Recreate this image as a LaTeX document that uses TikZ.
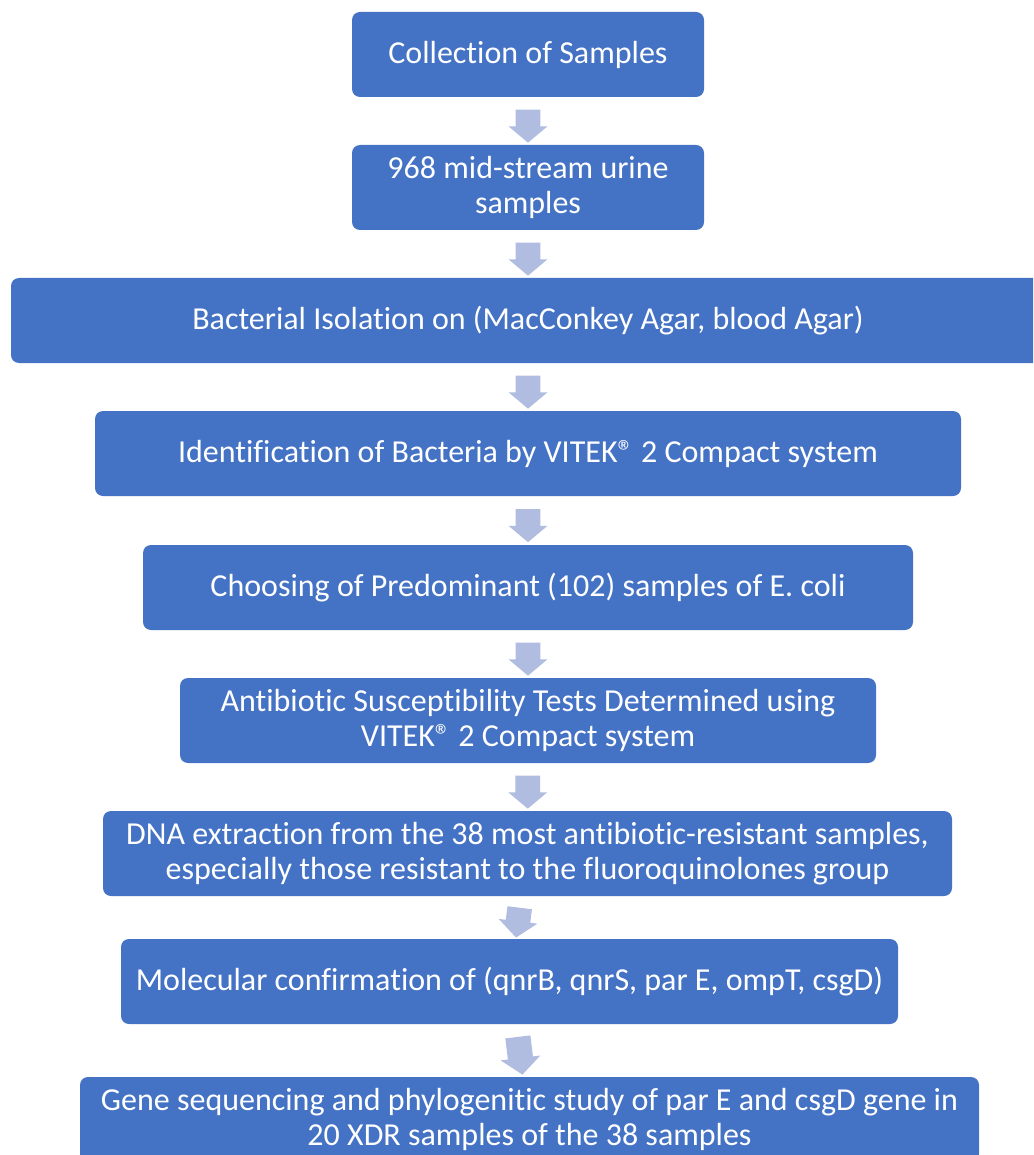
\documentclass[tikz,border=0pt]{standalone}
\usepackage{fontspec}
\setmainfont{Carlito}[Ligatures=NoCommon]
\usetikzlibrary{shapes.arrows,calc}
\definecolor{boxblue}{RGB}{68,114,196}
\definecolor{arrowblue}{RGB}{176,189,224}
\begin{document}
\begin{tikzpicture}[x=1pt,y=-1pt,
  stepbox/.style={rectangle,rounded corners=8pt,fill=boxblue,text=white,
    minimum height=85pt,inner sep=0,align=center,
    font=\fontsize{32}{35}\selectfont},
  flowarrow/.style={single arrow,fill=arrowblue,inner xsep=0,inner ysep=12pt,
    minimum height=33pt,minimum width=39pt,
    single arrow head indent=0pt,single arrow tip angle=100}]
  \clip (0,0) rectangle (1033,1155);
  %% Top two boxes.
  \node[stepbox,minimum width=352pt] (S1) at (528,54.5) {Collection of Samples};
  \node[stepbox,minimum width=352pt] (S2) at (528,187.5) {968 mid-stream urine\\samples};
  %% Wide box, runs off the right edge.
  \node[stepbox,minimum width=1034pt] (S3) at (528,320.5) {Bacterial Isolation on (MacConkey Agar, blood Agar)};
  %% 
  \node[stepbox,minimum width=866pt] (S4) at (528,453.5) {Identification of Bacteria by VITEK\textregistered{} 2 Compact system};
  \node[stepbox,minimum width=770pt] (S5) at (528,587.5) {Choosing of Predominant (102) samples of E. coli};
  \node[stepbox,minimum width=696pt] (S6) at (528,720.5) {Antibiotic Susceptibility Tests Determined using\\VITEK\textregistered{} 2 Compact system};
  %% 
  \node[stepbox,minimum width=849pt] (S7) at (527.5,853.5) {DNA extraction from the 38 most antibiotic-resistant samples,\\especially those resistant to the fluoroquinolones group};
  \node[stepbox,minimum width=777pt] (S8) at (509.5,981.5) {Molecular confirmation of (qnrB, qnrS, par E, ompT, csgD)};
  %% Last box, runs off the bottom edge.
  \node[stepbox,minimum width=899pt] (S9) at (529.5,1119.5) {Gene sequencing and phylogenitic study of par E and csgD gene in\\20 XDR samples of the 38 samples};

  %% Arrows between boxes.
  \node[flowarrow,rotate=-90] (A1) at ($(S1.south)!0.5!(S2.north)$) {};
  \node[flowarrow,rotate=-90] (A2) at ($(S2.south)!0.5!(S3.north)$) {};
  \node[flowarrow,rotate=-90] (A3) at ($(S3.south)!0.5!(S4.north)$) {};
  \node[flowarrow,rotate=-90] (A4) at ($(S4.south)!0.5!(S5.north)$) {};
  \node[flowarrow,rotate=-90] (A5) at ($(S5.south)!0.5!(S6.north)$) {};
  \node[flowarrow,rotate=-90] (A6) at ($(S6.south)!0.5!(S7.north)$) {};
  \node[flowarrow,rotate=-97,minimum height=30pt] (A7) at ($(S7.south)!0.5!(S8.north)$) {};
  \node[flowarrow,rotate=-83,minimum height=38pt,minimum width=40pt] (A8) at ($(S8.south)!0.5!(S9.north)$) {};
\end{tikzpicture}
\end{document}
